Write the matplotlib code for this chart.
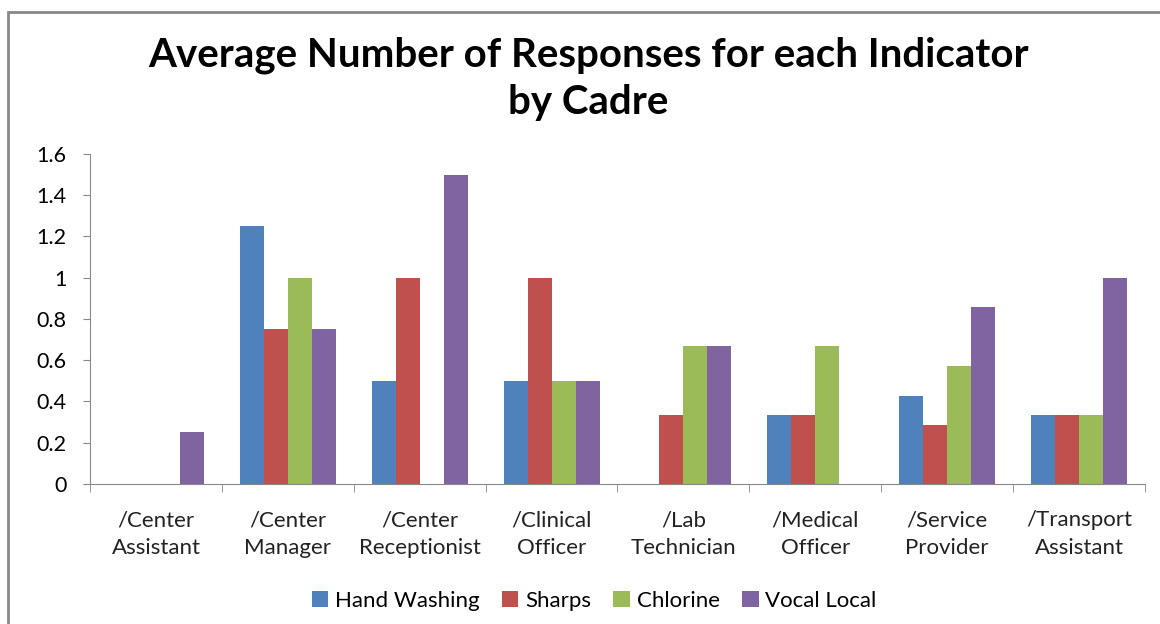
import numpy as np
import matplotlib.pyplot as plt
from matplotlib.patches import Rectangle

plt.rcParams['font.family'] = ['Lato', 'DejaVu Sans']

# data
cadres = ["/Center\nAssistant", "/Center\nManager", "/Center\nReceptionist", "/Clinical\nOfficer",
          "/Lab\nTechnician", "/Medical\nOfficer", "/Service\nProvider", "/Transport\nAssistant"]
series_names = ["Hand Washing", "Sharps", "Chlorine", "Vocal Local"]
hand_washing = [0, 1.25, 0.5, 0.5, 0, 0.333, 0.4286, 0.333]
sharps = [0, 0.75, 1.0, 1.0, 0.333, 0.333, 0.2857, 0.333]
chlorine = [0, 1.0, 0, 0.5, 0.667, 0.667, 0.5714, 0.333]
vocal_local = [0.25, 0.75, 1.5, 0.5, 0.667, 0, 0.857, 1.0]
colours = ['#4F81BD', '#C0504D', '#9BBB59', '#8064A2']

fig = plt.figure(figsize=(11.6, 6.24), dpi=100)
ax = fig.add_axes([0.0776, 0.2244, 0.9094, 0.5288])

x = np.arange(len(cadres))
w = 0.182
for i, vals in enumerate([hand_washing, sharps, chlorine, vocal_local]):
    ax.bar(x + (i - 1.5) * w, vals, width=w, color=colours[i], label=series_names[i])

ax.set_xlim(-0.5, len(cadres) - 0.5)
ax.set_ylim(0, 1.6)
ax.set_yticks(np.arange(0, 1.61, 0.2))
ax.set_yticklabels(['0', '0.2', '0.4', '0.6', '0.8', '1', '1.2', '1.4', '1.6'], fontsize=15.5)
ax.set_xticks(x)
ax.set_xticklabels(cadres, fontsize=16, color='#222222', linespacing=1.45)
ax.set_xticks(np.arange(-0.5, len(cadres)), minor=True)
ax.tick_params(axis='x', which='major', length=0, pad=19)
ax.tick_params(axis='x', which='minor', length=6, color='#888888', direction='out')
ax.tick_params(axis='y', length=5, color='#888888', pad=12)

for s in ['top', 'right']:
    ax.spines[s].set_visible(False)
for s in ['left', 'bottom']:
    ax.spines[s].set_color('#888888')

fig.text(0.507, 0.912, "Average Number of Responses for each Indicator", ha='center', va='center',
         fontsize=29, fontweight='bold')
fig.text(0.507, 0.835, "by Cadre", ha='center', va='center', fontsize=29, fontweight='bold')

ax.legend(loc='center', ncol=4, frameon=False, fontsize=16, handlelength=0.75, handleheight=0.75,
          handletextpad=0.3, columnspacing=1.0)
leg = ax.get_legend()
leg.set_bbox_to_anchor((594 / 1160, 1 - 601 / 624), transform=fig.transFigure)

fig.patches.append(Rectangle((8 / 1160, -0.1), 1.2, 1 - 12 / 624 + 0.1, transform=fig.transFigure,
                             fill=False, edgecolor='#888888', linewidth=2))

plt.savefig("out.png", dpi=100)
